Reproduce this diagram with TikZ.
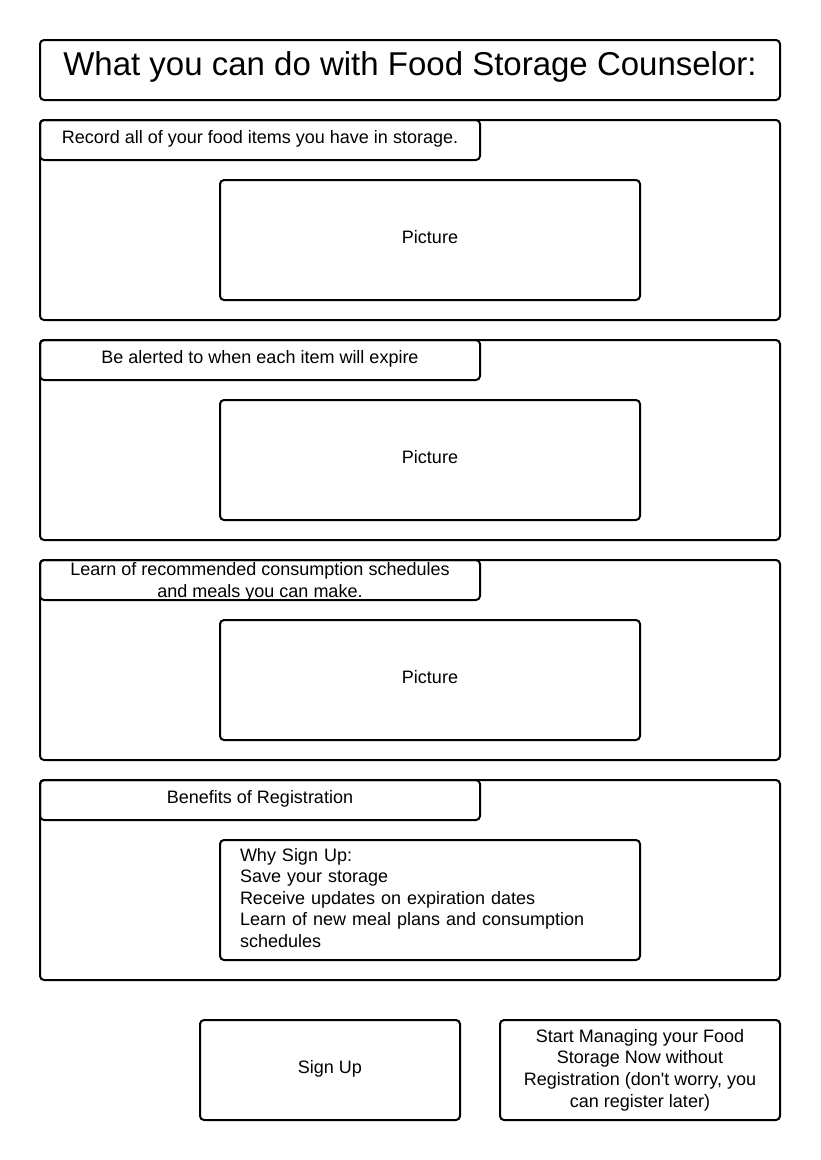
\documentclass[tikz,border=0pt]{standalone}
\usepackage{fontspec}
\setmainfont{Liberation Sans}
\usetikzlibrary{positioning}

\newcommand{\lift}[2]{\raisebox{#1}[\height][\depth]{#2}}

\begin{document}
\begin{tikzpicture}[x=1pt, y=-1pt,
		frame/.style={draw=black, line width=2pt, rounded corners=4pt},
		panel/.style={frame, minimum width=740pt, minimum height=200pt},
		tabbox/.style={frame, minimum width=440pt, minimum height=40pt, align=center, inner sep=0pt, font=\fontsize{18}{21.6}\selectfont},
		picbox/.style={frame, minimum width=420pt, minimum height=120pt, align=center, font=\fontsize{18}{21.6}\selectfont},
		btnbox/.style={frame, minimum height=100pt, align=center, font=\fontsize{18}{21.6}\selectfont}
	]
	\useasboundingbox (0,0) rectangle (820,1160);

	\node (title) [frame, minimum width=740pt, minimum height=60pt, font=\fontsize{33}{40}\selectfont] at (410,70) {\lift{3pt}{What you can do with Food Storage Counselor:}};

	% feature panels
	\node (sec1) [panel] at (410,220) {};
	\node (head1) [tabbox] at (260,140) {\lift{1pt}{Record all of your food items you have in storage.}};
	\node (pic1) [picbox] at (430,240) {\lift{3pt}{Picture}};

	\node (sec2) [panel] at (410,440) {};
	\node (head2) [tabbox] at (260,360) {\lift{1pt}{Be alerted to when each item will expire}};
	\node (pic2) [picbox] at (430,460) {\lift{3pt}{Picture}};

	\node (sec3) [panel] at (410,660) {};
	\node (head3) [tabbox] at (260,580) {};
	\node (head3txt) [align=center, inner sep=0pt, font=\fontsize{18}{21.6}\selectfont] at ([yshift=-2pt]head3.center) {Learn of recommended consumption schedules\\ and meals you can make.};
	\node (pic3) [picbox] at (430,680) {\lift{3pt}{Picture}};

	% registration
	\node (sec4) [panel] at (410,880) {};
	\node (head4) [tabbox] at (260,800) {\lift{1pt}{Benefits of Registration}};
	\node (why) [picbox, align=left, text width=380pt, inner xsep=20pt, inner ysep=0pt] at (430,900) {Why Sign Up:\strut\\ Save your storage\strut\\ Receive updates on expiration dates\strut\\ Learn of new meal plans and consumption\strut\\ schedules\strut};

	\node (signup) [btnbox, minimum width=260pt] at (330,1070) {\lift{1pt}{Sign Up}};
	\node (skip) [btnbox, minimum width=280pt, inner sep=0pt] at (640,1070) {Start Managing your Food\\ Storage Now without\\ Registration (don\textquotesingle t worry, you\\ can register later)};

\end{tikzpicture}
\end{document}
